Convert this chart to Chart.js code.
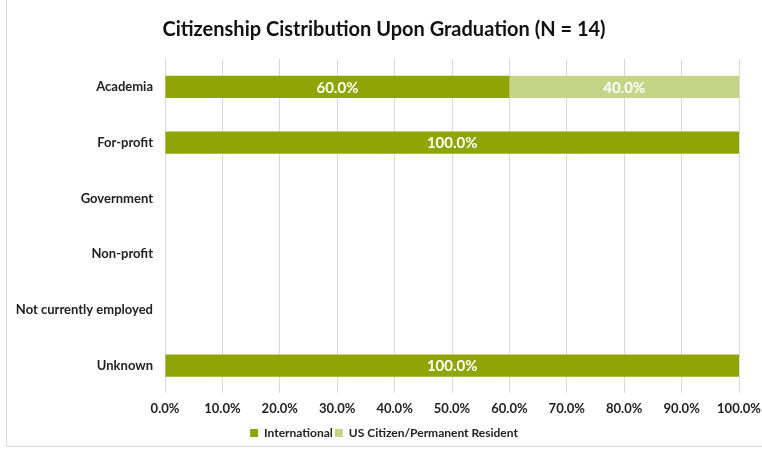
<!DOCTYPE html>
<html>
<head>
<meta charset="utf-8">
<script src="https://cdn.jsdelivr.net/npm/chart.js@4"></script>
<style>
html,body{margin:0;padding:0;background:#fff;}
#wrap{position:relative;width:762px;height:450px;}
#frame{position:absolute;left:6px;top:-1px;width:760px;height:448px;border:1px solid #d9d9d9;box-sizing:border-box;pointer-events:none;}
</style>
</head>
<body>
<div id="wrap">
  <canvas id="citChart" width="762" height="450"></canvas>
  <div id="frame"></div>
</div>
<script>
/* ── DATA ── */
var categories=['Academia','For-profit','Government','Non-profit','Not currently employed','Unknown'];
var international=[60,100,0,0,0,100];
var usCitizen=[40,0,0,0,0,0];
var xTicks=[0,10,20,30,40,50,60,70,80,90,100];

var FONT='Lato, "DejaVu Sans", sans-serif';

/* ── VALUE LABELS ── */
var barLabels={
  id:'barLabels',
  afterDatasetsDraw:function(chart){
    var ctx=chart.ctx;
    ctx.save();
    ctx.font='bold 15px '+FONT;
    ctx.fillStyle='#ffffff';
    ctx.textAlign='center';ctx.textBaseline='middle';
    chart.data.datasets.forEach(function(ds,di){
      chart.getDatasetMeta(di).data.forEach(function(bar,i){
        var v=ds.data[i];
        if(!v)return;
        var cx=(bar.x+bar.base)/2;
        ctx.fillText(v.toFixed(1)+'%',cx,bar.y+1);
      });
    });
    ctx.restore();
  }
};

new Chart(document.getElementById('citChart').getContext('2d'),{
  type:'bar',
  data:{
    labels:categories,
    datasets:[
      {label:'International',data:international,backgroundColor:'#8EA605',categoryPercentage:0.4,barPercentage:1},
      {label:'US Citizen/Permanent Resident',data:usCitizen,backgroundColor:'#C6D487',categoryPercentage:0.4,barPercentage:1}
    ]
  },
  options:{
    indexAxis:'y',
    responsive:false,animation:false,
    layout:{padding:{left:6,right:0,top:4,bottom:1}},
    plugins:{
      title:{display:true,text:'Citizenship Cistribution Upon Graduation (N = 14)',color:'#111',font:{family:FONT,size:20,weight:'bold'},padding:{top:14,bottom:17}},
      legend:{position:'bottom',labels:{boxWidth:8,boxHeight:8,color:'#222',font:{family:FONT,size:12,weight:'bold'},padding:2}},
      tooltip:{enabled:false}
    },
    scales:{
      x:{stacked:true,min:0,max:100,
        afterBuildTicks:function(ax){ax.ticks=xTicks.map(function(v){return{value:v};});},
        afterFit:function(s){s.paddingRight=23;s.paddingLeft=0;},
        ticks:{callback:function(v){return v.toFixed(1)+'%';},color:'#222',font:{family:FONT,size:13,weight:'bold'},padding:8,maxRotation:0},
        grid:{color:'#d9d9d9',drawTicks:false},border:{display:false}},
      y:{stacked:true,
        afterFit:function(s){s.width=159;},
        ticks:{color:'#222',font:{family:FONT,size:13,weight:'bold'},padding:12},
        grid:{display:false,drawTicks:false},border:{display:false}}
    }
  },
  plugins:[barLabels]
});
</script>
</body>
</html>
